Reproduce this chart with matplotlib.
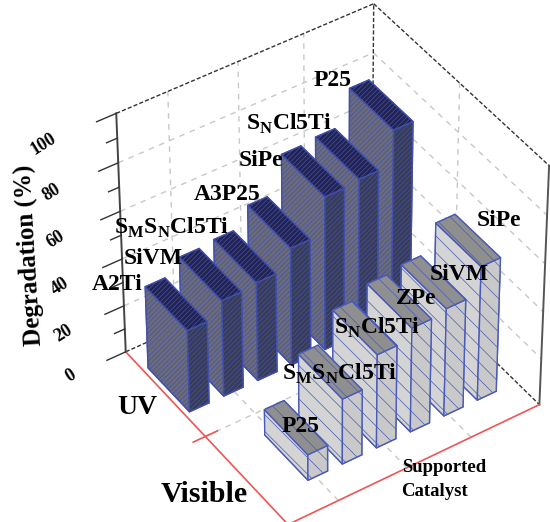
import matplotlib
matplotlib.use('Agg')
import matplotlib.pyplot as plt

plt.rcParams['font.family'] = ['Liberation Serif', 'DejaVu Serif']
plt.rcParams['font.weight'] = 'bold'
plt.rcParams['mathtext.fontset'] = 'custom'
plt.rcParams['mathtext.rm'] = 'Liberation Serif:bold'
plt.rcParams['mathtext.bf'] = 'Liberation Serif:bold'
plt.rcParams['hatch.linewidth'] = 0.5

# catalysts and degradation (%)
uv_names = ['A2Ti', 'SiVM', r'S$_{\mathrm{M}}$S$_{\mathrm{N}}$Cl5Ti', 'A3P25', 'SiPe', r'S$_{\mathrm{N}}$Cl5Ti', 'P25']
uv_vals = [35, 41, 42, 50, 65, 66, 80]
vis_names = ['P25', r'S$_{\mathrm{M}}$S$_{\mathrm{N}}$Cl5Ti', r'S$_{\mathrm{N}}$Cl5Ti', 'ZPe', 'SiVM', 'SiPe']
vis_vals = [11, 28, 40, 44.5, 46, 57]
z_ticks = [0, 20, 40, 60, 80, 100]
z_minor = [10, 30, 50, 70, 90]

# label centres in pixels
uv_pos = [(117, 284), (153, 258), (172, 228), (227, 195), (261, 161), (289, 124), (333, 80)]
vis_pos = [(301, 427), (340, 374), (377, 328), (416, 298), (459, 274), (499, 220)]
tick_pos = [(71, 376), (63, 333), (60, 286), (56, 239), (52, 192), (43, 144)]

x0, x1 = -0.15, 7.25
y0, y1 = 0.0, 1.0
grid_x = [1.3, 3.3, 5.2]
grid_y = [0.5]

fig = plt.figure(figsize=(5.5, 5.22), dpi=100)
ax = fig.add_axes([-0.013, -0.117, 1.2, 1.2], projection='3d', computed_zorder=False)
ax.set_proj_type('persp', focal_length=1.4)
ax.view_init(elev=42, azim=-124)
ax.set_box_aspect((300, 295, 314), zoom=0.832)
ax.set_xlim(x0, x1)
ax.set_ylim(y0, y1)
ax.set_zlim(0, 100)
ax.set_axis_off()


def line(xs, ys, zs, **kw):
    ax.plot(xs, ys, zs, clip_on=False, zorder=1, **kw)


grid = dict(color='#c8c8c8', ls=(0, (4, 4)), lw=1)
for z in z_ticks[1:-1]:
    line([x0, x1], [y1, y1], [z, z], **grid)
    line([x1, x1], [y1, y0], [z, z], **grid)
for x in grid_x:
    line([x, x], [y1, y1], [0, 100], **grid)
    line([x, x], [y0, y1], [0, 0], **grid)
for y in grid_y:
    line([x1, x1], [y, y], [0, 100], **grid)
    line([x0, x1], [y, y], [0, 0], **grid)

edge = dict(color='#333333', ls=(0, (3, 1.5)), lw=1)
line([x0, x1], [y1, y1], [100, 100], **edge)
line([x1, x1], [y1, y0], [100, 100], **edge)
line([x1, x1], [y1, y1], [0, 100], **edge)
line([x0, x1], [y1, y1], [0, 0], **edge)
line([x1, x1], [y1, y0], [0, 0], **edge)
line([x0, x0], [y1, y1], [0, 100], color='#444444', lw=1.4)
line([x1, x1], [y0, y0], [0, 100], color='#555555', lw=1.4)
line([x0, x0], [y0, y1], [0, 0], color='#ee5555', lw=1.2)
line([x0, x1], [y0, y0], [0, 0], color='#ee5555', lw=1.2)
for y in grid_y:
    line([x0 - 0.35, x0 + 0.35], [y, y], [0, 0], color='#ee5555', lw=1.2)
for z in z_ticks:
    line([x0 - 0.55, x0], [y1, y1], [z, z], color='#333333', lw=1)
for z in z_minor:
    line([x0 - 0.3, x0], [y1, y1], [z, z], color='#333333', lw=1)

bar_w = 0.57
uv_y, uv_d = 0.63, 0.26
vis_y, vis_d = 0.135, 0.26
vis_shift = 1.08
uv_cols = ['#333355', '#232350', '#383c55', '#383c55', '#6c6c78', '#6c6c78']
vis_cols = ['#c9c9c9', '#8f8f8f', '#c9c9c9', '#c9c9c9', '#d4d4d4', '#d4d4d4']

zo = 5
for i in range(len(uv_vals) - 1, -1, -1):
    b = ax.bar3d(i, uv_y, 0, bar_w, uv_d, uv_vals[i], color=uv_cols, shade=False,
                 edgecolor='#4250ac', linewidth=1, hatch='///////', zorder=zo)
    zo += 1
for i in range(len(vis_vals) - 1, -1, -1):
    b = ax.bar3d(i + vis_shift, vis_y, 0, bar_w, vis_d, vis_vals[i], color=vis_cols, shade=False,
                 edgecolor='#4a5ab8', linewidth=1, hatch='\\\\', zorder=zo)
    zo += 1


def lab(x, y, s, size=17, **kw):
    fig.text(x / 550, 1 - y / 522, s, fontsize=size, fontweight='bold',
             ha='center', va='center', **kw)


for p, n in zip(uv_pos, uv_names):
    lab(p[0], p[1], n)
for p, n in zip(vis_pos, vis_names):
    lab(p[0], p[1], n)
for p, t in zip(tick_pos, z_ticks):
    lab(p[0], p[1], str(t), size=13, rotation=32)
lab(29, 255, 'Degradation (%)', size=18, rotation=93.4)
lab(137, 408, 'UV', size=20)
lab(204, 494, 'Visible', size=21.5)
lab(444, 468, 'Supported', size=13.5)
lab(435, 492, 'Catalyst', size=13.5)

fig.savefig('out.png', dpi=100)
